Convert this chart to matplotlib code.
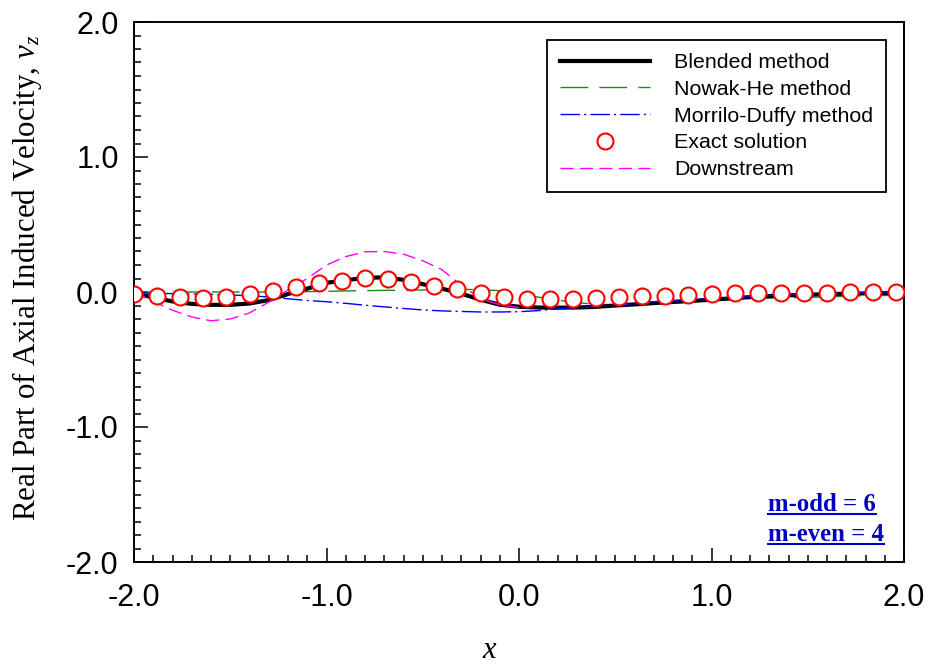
import numpy as np
import matplotlib
matplotlib.use('Agg')
import matplotlib.pyplot as plt
from matplotlib.lines import Line2D
from matplotlib.ticker import MultipleLocator, FormatStrFormatter

plt.rcParams['font.family'] = 'Liberation Sans'
plt.rcParams['axes.unicode_minus'] = False
plt.rcParams['mathtext.fontset'] = 'custom'
plt.rcParams['mathtext.rm'] = 'Liberation Serif'
plt.rcParams['mathtext.it'] = 'Liberation Serif:italic'

# curve samples on a 0.1 grid from x = -2 to 2
x_line = np.round(np.arange(-2.0, 2.0001, 0.1), 2)

blended = [-0.010, -0.040, -0.070, -0.088, -0.095, -0.095, -0.085, -0.060,
           -0.015, 0.025, 0.068, 0.088, 0.104, 0.109, 0.090, 0.058,
           0.025, -0.012, -0.057, -0.094, -0.109, -0.115, -0.116, -0.115,
           -0.110, -0.100, -0.092, -0.082, -0.074, -0.066, -0.057, -0.047,
           -0.038, -0.030, -0.025, -0.020, -0.016, -0.013, -0.010, -0.008,
           -0.006]

nowak_he = [0.000, 0.000, 0.000, 0.000, 0.000, 0.000, 0.000, 0.000,
            0.000, 0.003, 0.005, 0.008, 0.010, 0.012, 0.013, 0.015,
            0.018, 0.020, 0.017, 0.010, -0.015, -0.038, -0.060, -0.080,
            -0.090, -0.095, -0.090, -0.080, -0.073, -0.070, -0.063, -0.057,
            -0.050, -0.046, -0.042, -0.040, -0.036, -0.032, -0.028, -0.026,
            -0.025]

morrilo_duffy = [-0.005, -0.010, -0.012, -0.015, -0.018, -0.022, -0.028, -0.037,
                 -0.050, -0.063, -0.072, -0.084, -0.098, -0.110, -0.122, -0.133,
                 -0.140, -0.144, -0.148, -0.148, -0.146, -0.138, -0.125, -0.115,
                 -0.110, -0.100, -0.088, -0.072, -0.063, -0.056, -0.048, -0.040,
                 -0.032, -0.025, -0.018, -0.015, -0.012, -0.008, -0.005, -0.003,
                 -0.002]

# downstream curve only runs up to x = 0
x_down = np.round(np.arange(-2.0, 0.0001, 0.1), 2)
downstream = [0.000, -0.070, -0.135, -0.185, -0.213, -0.200, -0.155, -0.075,
              0.015, 0.100, 0.200, 0.262, 0.298, 0.300, 0.280, 0.232,
              0.165, 0.050, -0.050, -0.095, -0.115]

# exact solution points, spacing 0.12
x_exact = np.round(-2.0 + 0.12 * np.arange(34), 2)
exact = [-0.012, -0.027, -0.039, -0.042, -0.035, -0.017, 0.007, 0.039,
         0.066, 0.084, 0.101, 0.096, 0.076, 0.047, 0.020, -0.005,
         -0.035, -0.052, -0.052, -0.052, -0.047, -0.039, -0.032, -0.027,
         -0.020, -0.015, -0.010, -0.010, -0.007, -0.007, -0.005, -0.002,
         -0.002, -0.002]

fig = plt.figure(figsize=(9.29, 6.64), dpi=100)
ax = fig.add_axes([134/929, 1 - 562/664, 770/929, 540/664])

ax.plot(x_line, blended, color='black', lw=3.0, label='Blended method', zorder=3)
ax.plot(x_line, nowak_he, color='#1a8a1a', lw=1.0, dashes=(20, 8),
        label='Nowak-He method', zorder=2)
ax.plot(x_line, morrilo_duffy, color='blue', lw=1.0, dashes=(14, 3, 1.5, 3),
        label='Morrilo-Duffy method', zorder=4)
ax.plot(x_exact, exact, 'o', ms=11.5, mfc='white', mec='red', mew=1.5,
        ls='none', label='Exact solution', zorder=6)
ax.plot(x_down, downstream, color='magenta', lw=1.0, dashes=(9.5, 4.5),
        label='Downstream', zorder=5)

ax.set_xlim(-2, 2)
ax.set_ylim(-2, 2)
ax.xaxis.set_major_locator(MultipleLocator(1.0))
ax.xaxis.set_minor_locator(MultipleLocator(0.1))
ax.yaxis.set_major_locator(MultipleLocator(1.0))
ax.yaxis.set_minor_locator(MultipleLocator(0.1))
ax.xaxis.set_major_formatter(FormatStrFormatter('%.1f'))
ax.yaxis.set_major_formatter(FormatStrFormatter('%.1f'))
ax.tick_params(which='both', direction='in', top=False, right=False,
               labelsize=22, width=1.1, color='black')
ax.tick_params(axis='x', which='major', length=10, pad=15)
ax.tick_params(axis='y', which='major', length=10, pad=11)
ax.tick_params(which='minor', length=5)
for s in ax.spines.values():
    s.set_linewidth(1.4)

ax.set_ylabel('Real Part of Axial Induced Velocity, $v_z$',
              family='Liberation Serif', fontsize=22.3)
ax.yaxis.set_label_coords(-0.117, 0.526)
ax.set_xlabel('$x$', fontsize=22)
ax.xaxis.set_label_coords(0.462, -0.135)

leg = ax.legend(loc='upper right', bbox_to_anchor=(0.977, 0.966),
                borderaxespad=0, fontsize=15.4, frameon=True, fancybox=False,
                edgecolor='black', framealpha=1, handlelength=4.2,
                handletextpad=1.15, labelspacing=0.36, borderpad=0.6)
leg.get_frame().set_linewidth(1.3)

blue_txt = '#0000c0'
t1 = ax.text(0.824, 0.095, 'm-odd = 6', transform=ax.transAxes, color=blue_txt,
             family='Liberation Serif', weight='bold', fontsize=17.8,
             ha='left', va='baseline')
t2 = ax.text(0.824, 0.038, 'm-even = 4', transform=ax.transAxes, color=blue_txt,
             family='Liberation Serif', weight='bold', fontsize=17.8,
             ha='left', va='baseline')

# underline the two labels
fig.canvas.draw()
r = fig.canvas.get_renderer()
for t in (t1, t2):
    bb = t.get_window_extent(r)
    base = ax.transAxes.transform(t.get_position())[1]
    y = base - 3
    fig.add_artist(Line2D([bb.x0, bb.x1], [y, y], transform=None,
                          color=blue_txt, lw=1.5))

fig.savefig('out.png', dpi=100)
